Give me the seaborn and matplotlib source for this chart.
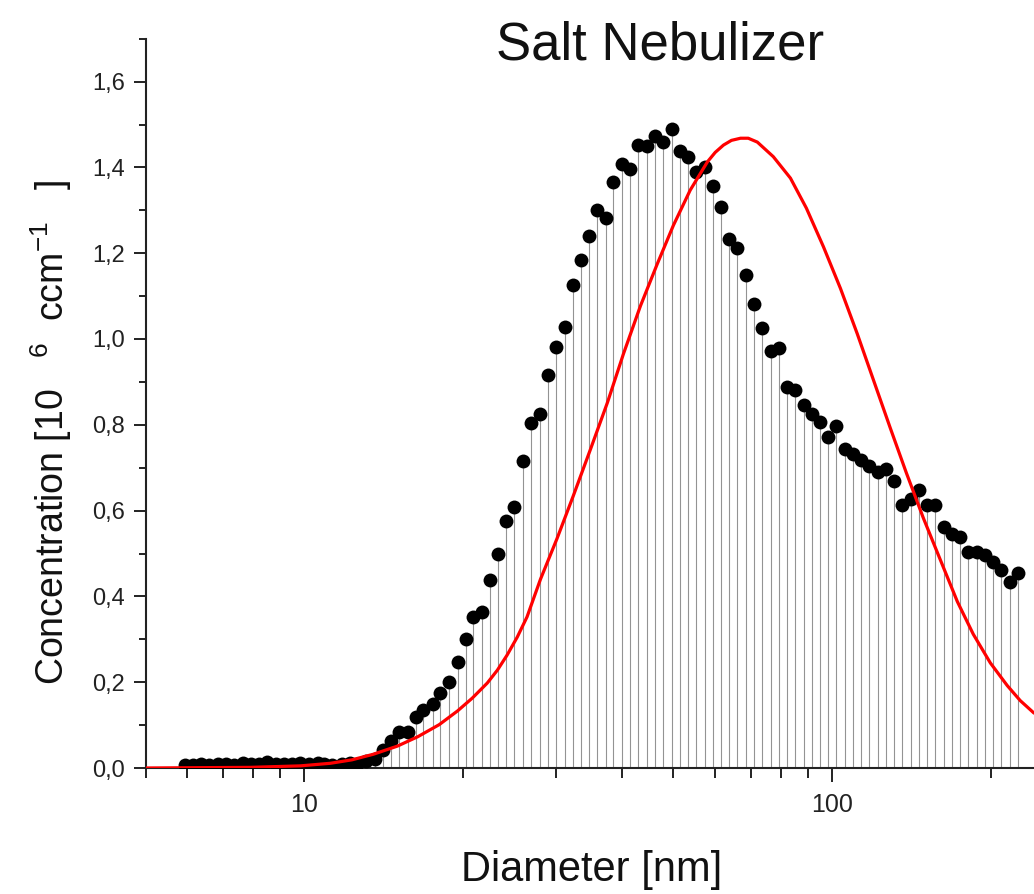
import numpy as np
import pandas as pd
import matplotlib
matplotlib.use("Agg")
import matplotlib.pyplot as plt
import seaborn as sns
from matplotlib.ticker import (FixedLocator, MultipleLocator, LogLocator,
                               NullFormatter, FuncFormatter)

# ---------------- data ----------------
diameter_nm = [
    5.94, 6.15, 6.38, 6.61, 6.85, 7.10, 7.37, 7.64, 7.91, 8.20, 8.51, 8.82, 9.14, 9.47, 9.82,
    10.2, 10.6, 10.9, 11.3, 11.8, 12.2, 12.6, 13.1, 13.6, 14.1, 14.6, 15.1, 15.7, 16.3, 16.8,
    17.5, 18.1, 18.8, 19.5, 20.2, 20.9, 21.7, 22.5, 23.3, 24.1, 25.0, 25.9, 26.9, 27.9, 28.9,
    30.0, 31.1, 32.2, 33.4, 34.6, 35.9, 37.2, 38.5, 40.0, 41.4, 42.9, 44.5, 46.1, 47.8, 49.6,
    51.4, 53.3, 55.2, 57.3, 59.4, 61.5, 63.8, 66.1, 68.5, 71.0, 73.7, 76.4, 79.1, 82.0, 85.1,
    88.2, 91.4, 94.7, 98.2, 101.8, 105.5, 109.4, 113.4, 117.6, 121.9, 126.3, 131.0, 135.8,
    140.7, 145.9, 151.2, 156.8, 162.5, 168.5, 174.7, 181.1, 187.7, 194.6, 201.7, 209.1,
    216.7, 224.7,
]

concentration = [
    0.008, 0.008, 0.009, 0.008, 0.010, 0.009, 0.008, 0.012, 0.010, 0.009, 0.013, 0.010,
    0.009, 0.010, 0.011, 0.009, 0.012, 0.010, 0.008, 0.010, 0.012, 0.009, 0.017, 0.022,
    0.043, 0.062, 0.085, 0.083, 0.119, 0.136, 0.149, 0.174, 0.201, 0.248, 0.300, 0.353,
    0.363, 0.439, 0.500, 0.575, 0.608, 0.715, 0.804, 0.825, 0.916, 0.981, 1.029, 1.126,
    1.184, 1.241, 1.301, 1.282, 1.366, 1.409, 1.396, 1.452, 1.450, 1.473, 1.459, 1.490,
    1.438, 1.424, 1.390, 1.401, 1.356, 1.308, 1.232, 1.213, 1.150, 1.081, 1.025, 0.973,
    0.980, 0.887, 0.880, 0.845, 0.826, 0.806, 0.771, 0.798, 0.744, 0.733, 0.717, 0.705,
    0.690, 0.698, 0.670, 0.612, 0.628, 0.647, 0.612, 0.612, 0.562, 0.546, 0.539, 0.504,
    0.504, 0.496, 0.481, 0.462, 0.434, 0.455,
]

fit_diameter_nm = [
    5.0, 7.9, 9.83, 11.2, 12.3, 13.5, 15.0, 16.4, 18.0, 19.5, 20.8, 22.2, 23.2, 24.2,
    25.3, 26.4, 28.0, 30.1, 32.3, 34.8, 37.5, 40.2, 43.3, 46.6, 50.0, 53.8, 58.0, 60.0,
    62.2, 64.4, 67.0, 69.3, 72.1, 77.3, 83.3, 89.3, 96.2, 103.6, 111.5, 119.6, 128.8,
    138.1, 148.7, 160.2, 172.5, 184.9, 199.2, 214.5, 227.0, 241.0,
]
fit_concentration = [
    0.000, 0.0015, 0.005, 0.011, 0.019, 0.032, 0.051, 0.073, 0.101, 0.133, 0.163, 0.198,
    0.228, 0.263, 0.305, 0.352, 0.440, 0.535, 0.634, 0.742, 0.852, 0.965, 1.077, 1.175,
    1.265, 1.347, 1.413, 1.435, 1.452, 1.463, 1.468, 1.468, 1.459, 1.425, 1.375, 1.305,
    1.215, 1.118, 1.012, 0.905, 0.792, 0.688, 0.583, 0.485, 0.388, 0.312, 0.245, 0.192,
    0.157, 0.128,
]

assert len(diameter_nm) == len(concentration)
assert len(fit_diameter_nm) == len(fit_concentration)

title_text = "Salt Nebulizer"
x_label = "Diameter [nm]"
y_label = r"Concentration [10   $^{6}$  ccm$^{-1}$   ]"
x_major_ticks = [10, 100]
y_major_ticks = [0.0, 0.2, 0.4, 0.6, 0.8, 1.0, 1.2, 1.4, 1.6]

df = pd.DataFrame({"d": diameter_nm, "c": concentration})
fit = pd.DataFrame({"d": fit_diameter_nm, "c": fit_concentration})

# ---------------- style ----------------
sns.set_theme(style="ticks")
plt.rcParams["font.family"] = ["Liberation Sans", "DejaVu Sans"]
plt.rcParams["mathtext.default"] = "regular"

W, H = 1034, 894
fig = plt.figure(figsize=(W / 100, H / 100), dpi=100)
fig.patch.set_facecolor("white")
left_px, right_px, bottom_px, top_px = 145.5, 1034, 768, 38.7
ax = fig.add_axes([left_px / W, 1 - bottom_px / H,
                   (right_px - left_px) / W, (bottom_px - top_px) / H])
ax.set_facecolor("white")
ax.set_xscale("log")

# drop lines
ax.vlines(df["d"], 0, df["c"], colors="#939393", linewidth=0.8, zorder=1)
# points
sns.scatterplot(data=df, x="d", y="c", ax=ax, color="black", s=100,
                edgecolor="black", linewidth=0, zorder=3, legend=False)
# fitted curve
sns.lineplot(data=fit, x="d", y="c", ax=ax, color="#ff0000", linewidth=2.3,
             sort=False, zorder=4, legend=False)

ax.set_xlim(5.0, 241.0)
ax.set_ylim(0, 1.7)
ax.set_xlabel("")
ax.set_ylabel("")

for s in ["top", "right"]:
    ax.spines[s].set_visible(False)
for s in ["left", "bottom"]:
    ax.spines[s].set_color("#222222")
    ax.spines[s].set_linewidth(1.5)

ax.xaxis.set_major_locator(FixedLocator(x_major_ticks))
ax.xaxis.set_minor_locator(LogLocator(base=10, subs=np.arange(2, 10), numticks=30))
ax.xaxis.set_major_formatter(FuncFormatter(lambda v, p: f"{v:g}"))
ax.xaxis.set_minor_formatter(NullFormatter())
ax.yaxis.set_major_locator(FixedLocator(y_major_ticks))
ax.yaxis.set_minor_locator(MultipleLocator(0.1))
ax.yaxis.set_major_formatter(FuncFormatter(lambda v, p: f"{v:.1f}".replace(".", ",")))

ax.tick_params(axis="x", which="major", direction="out", length=10, width=1.4,
               color="#222222", labelsize=18, pad=8, labelcolor="#222222")
ax.tick_params(axis="x", which="minor", direction="out", length=7, width=1.4,
               color="#222222")
ax.tick_params(axis="y", which="major", direction="out", length=8.5, width=1.4,
               color="#222222", labelsize=17, pad=6, labelcolor="#222222")
ax.tick_params(axis="y", which="minor", direction="out", length=5, width=1.4,
               color="#222222")

# texts
fig.text(660 / W, 1 - 59 / H, title_text, ha="center", va="baseline",
         fontsize=38, color="#111111")
fig.text(592 / W, 1 - 881 / H, x_label, ha="center", va="baseline",
         fontsize=30, color="#111111")
fig.text(64 / W, 1 - 432 / H, y_label, ha="center", va="baseline",
         rotation=90, rotation_mode="anchor", fontsize=27, color="#111111")

fig.savefig("out.png", dpi=100, facecolor="white")
